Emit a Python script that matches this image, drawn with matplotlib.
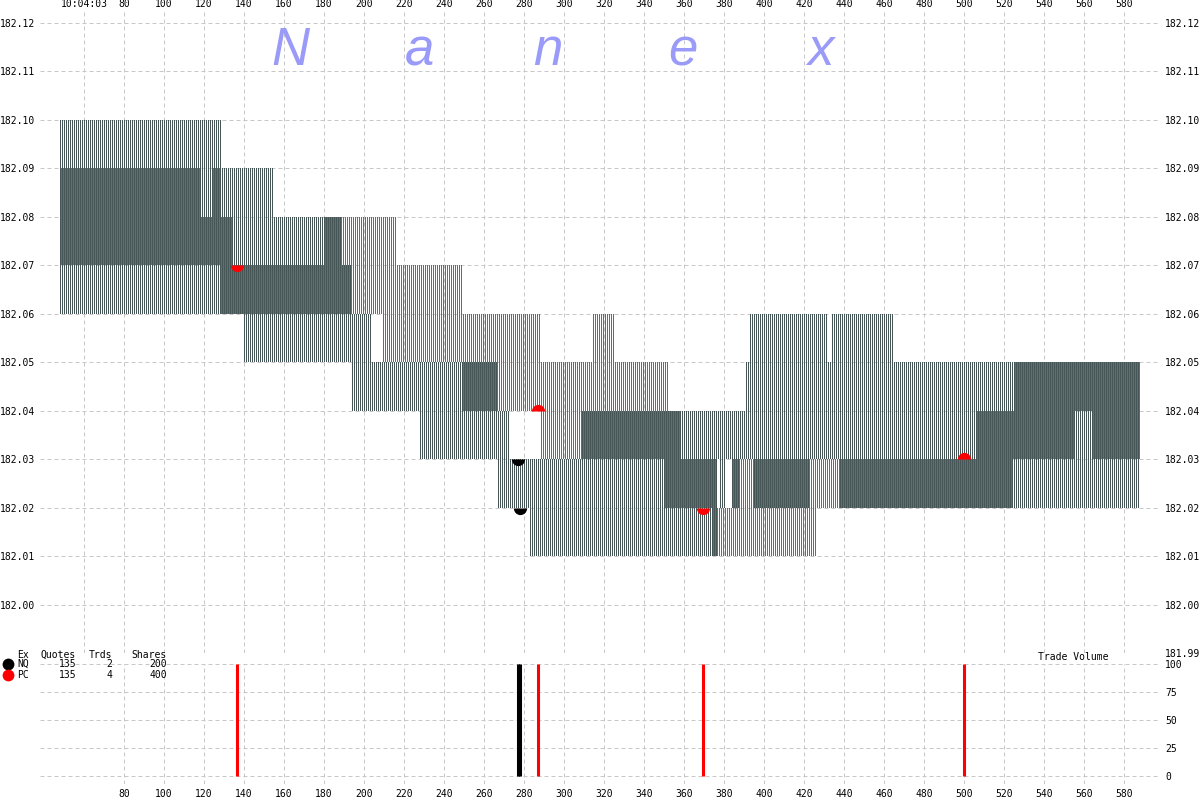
import numpy as np
import matplotlib
matplotlib.use('Agg')
import matplotlib.pyplot as plt
from matplotlib.lines import Line2D

plt.rcParams['font.family'] = ['DejaVu Sans Mono']
plt.rcParams['font.size'] = 7

# quotes: time where each quote starts, bid, ask (holds until next quote)
nq_t = [48, 129, 140, 155, 188.4, 193.7, 203.3, 228, 267, 272.3, 282.8, 308.7,
        376.2, 378, 381, 384, 387.8, 391, 393, 394.8, 422.5, 432, 434, 437.7, 464.4]
nq_bid = [182.06, 182.06, 182.05, 182.05, 182.05, 182.04, 182.04, 182.03, 182.02, 182.02,
          182.01, 182.01, 182.03, 182.02, 182.03, 182.02, 182.03, 182.03, 182.03, 182.02,
          182.03, 182.03, 182.03, 182.02, 182.02]
nq_ask = [182.10, 182.09, 182.09, 182.08, 182.07, 182.06, 182.05, 182.05, 182.04, 182.03,
          182.03, 182.04, 182.04, 182.04, 182.04, 182.04, 182.04, 182.05, 182.06, 182.06,
          182.06, 182.05, 182.06, 182.06, 182.05]

pc_t = [48, 118.2, 123.9, 128.5, 134, 179.6, 209, 216.5, 249, 288.5, 314.4, 325, 350.3,
        352, 358, 374.5, 376.2, 383.7, 426.2, 506.2, 524, 525.3, 555, 564.5]
pc_bid = [182.07, 182.07, 182.07, 182.06, 182.06, 182.06, 182.05, 182.05, 182.04, 182.03,
          182.03, 182.03, 182.02, 182.02, 182.02, 182.01, 182.01, 182.01, 182.02, 182.02,
          182.03, 182.03, 182.04, 182.03]
pc_ask = [182.09, 182.08, 182.09, 182.08, 182.07, 182.08, 182.08, 182.07, 182.06, 182.05,
          182.06, 182.05, 182.05, 182.04, 182.03, 182.03, 182.02, 182.03, 182.03, 182.04,
          182.04, 182.05, 182.05, 182.05]
quote_end = 588

# trades
tr_t = [136.3, 276.8, 277.8, 287.0, 369.3, 500.0]
tr_price = [182.07, 182.03, 182.02, 182.04, 182.02, 182.03]
tr_ex = ['PC', 'NQ', 'NQ', 'PC', 'PC', 'PC']
tr_half = ['bottom', 'bottom', 'bottom', 'top', 'bottom', 'top']
tr_size = [100, 100, 100, 100, 100, 100]

# summary table
ex_names = ['NQ', 'PC']
ex_quotes = [135, 135]
ex_trades = [2, 4]
ex_shares = [200, 400]
ex_colors = {'NQ': '#000000', 'PC': '#ff0000'}
stripe_colors = {'NQ': '#465656', 'PC': '#d83c3c'}

price_ticks = np.round(np.arange(181.99, 182.125, 0.01), 2)
time_ticks = np.arange(60, 600, 20)
time_labels = ['10:04:03'] + [str(v) for v in time_ticks[1:]]
vol_ticks = [0, 25, 50, 75, 100]

W, H = 1200, 800
fig = plt.figure(figsize=(12, 8), dpi=100)
grid_kw = dict(color='#c8c8c8', lw=0.72, ls=(0, (4, 3)))

# ---- price panel
ax = fig.add_axes([40 / W, 147 / H, 1120 / W, 643 / H])
ax.set_xlim(38, 598)
ax.set_ylim(181.99, 182.12 + 0.01 * 13 / 48.46)
ax.grid(True, **grid_kw)
ax.set_axisbelow(True)


def stripes(t, bid, ask, off, color):
    # one pixel-wide column per time step, from bid up to ask
    t = np.asarray(t)
    us = np.arange(np.ceil(t[0]), quote_end) + off
    idx = np.searchsorted(t, us, side='right') - 1
    lo = np.asarray(bid)[idx]
    hi = np.asarray(ask)[idx]
    ax.bar(us, hi - lo, bottom=lo, width=0.5, align='edge', color=color,
           linewidth=0, antialiased=False, zorder=2)


stripes(nq_t, nq_bid, nq_ask, 0.0, stripe_colors['NQ'])
stripes(pc_t, pc_bid, pc_ask, 0.5, stripe_colors['PC'])

for t, p, e, h in zip(tr_t, tr_price, tr_ex, tr_half):
    ax.plot(t, p, marker='o', ms=9.5, fillstyle=h, color=ex_colors[e],
            markerfacecoloralt='none', mew=0, zorder=4)

ax.xaxis.tick_top()
ax.set_xticks(time_ticks)
ax.set_xticklabels(time_labels)
ax.set_yticks(price_ticks)
ax.set_yticklabels([''] + ['%.2f' % v for v in price_ticks[1:]])
ax.tick_params(length=0, pad=3.6)
ax.tick_params(axis='x', pad=1)
for s in ax.spines.values():
    s.set_visible(False)

axr = ax.twinx()
axr.set_ylim(ax.get_ylim())
axr.set_yticks(price_ticks)
axr.set_yticklabels(['%.2f' % v for v in price_ticks])
axr.tick_params(length=0, pad=3.6)
for s in axr.spines.values():
    s.set_visible(False)

# watermark
for ch, x in zip('Nanex', [290, 420, 548, 683, 820]):
    fig.text(x / W, 1 - 65 / H, ch, color='#9a9af8', fontsize=38, style='italic',
             family='Liberation Sans', ha='center', va='baseline')

# ---- volume panel
ax2 = fig.add_axes([40 / W, 16.16 / H, 1120 / W, 119.84 / H])
ax2.set_xlim(38, 598)
ax2.set_ylim(-7, 100)
ax2.grid(True, **grid_kw)
ax2.set_axisbelow(True)
ax2.vlines(tr_t, 0, tr_size, colors=[ex_colors[e] for e in tr_ex], lw=2.2, zorder=3)
ax2.set_xticks(time_ticks[1:])
ax2.set_yticks(vol_ticks)
ax2.yaxis.tick_right()
ax2.tick_params(length=0, pad=3.6)
for s in ax2.spines.values():
    s.set_visible(False)

ax2.text(1038 / W, 1 - 657 / H, 'Trade Volume', transform=fig.transFigure, va='center')

# summary table
fig.text(17 / W, 1 - 655 / H, 'Ex', va='center')
for x, lab in zip([76, 112, 167], ['Quotes', 'Trds', 'Shares']):
    fig.text(x / W, 1 - 655 / H, lab, va='center', ha='right')
for i, e in enumerate(ex_names):
    y = 1 - (664 + 10.5 * i) / H
    fig.add_artist(Line2D([8 / W], [y], marker='o', ms=8.5, color=ex_colors[e],
                          mew=0, transform=fig.transFigure))
    fig.text(17 / W, y, e, va='center')
    for x, v in zip([76, 112, 167], [ex_quotes[i], ex_trades[i], ex_shares[i]]):
        fig.text(x / W, y, str(v), va='center', ha='right')

fig.savefig('out.png', dpi=100, facecolor='white')
